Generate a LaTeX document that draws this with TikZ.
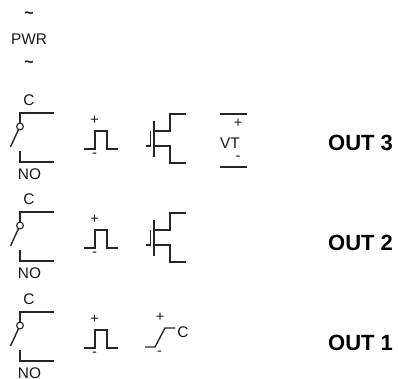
\documentclass[tikz,border=0pt]{standalone}
\usepackage{fontspec}
\setmainfont{Liberation Sans}
\tikzset{
  wire/.style={draw=black!85,line width=1.4pt,line cap=butt,line join=miter},
  lbl/.style={inner sep=0pt,font=\fontsize{15.4}{16}\selectfont,text=black!90},
  sign/.style={inner sep=0pt,font=\fontsize{14.5}{15}\selectfont,text=black!90},
  tilde/.style={inner sep=0pt,font=\fontsize{16}{16}\selectfont\bfseries,text=black!90},
  outlbl/.style={inner sep=0pt,anchor=west,font=\fontsize{22}{24}\selectfont\bfseries},
  relayrow/.pic={
    \draw[wire] (54,113) -- (20,113) -- (20,123);
    \draw[wire] (20,151) -- (20,162) -- (54,162);
    \draw[wire] (18.4,129.8) -- (10.5,147);
    \draw[wire,line width=1.1pt] (20,126.5) circle (3.4);
    \node[lbl] (c) at (29,100.5) {C};
    \node[lbl] (no) at (29.5,174) {NO};
    \draw[wire] (84,149) -- (95,149) -- (95,131) -- (107,131) -- (107,149) -- (118,149);
    \node[sign] (p) at (94.5,120) {+};
    \node[sign] (m) at (94.5,155.5) {-};
  },
  fetsym/.pic={
    \draw[wire] (154,121) -- (154,157);
    \draw[wire] (150.3,131) -- (150.3,146) -- (146,146);
    \draw[wire] (154,131) -- (170,131) -- (170,114) -- (186,114);
    \draw[wire] (154,146) -- (170,146) -- (170,163) -- (186,163);
  }
}
\begin{document}
\begin{tikzpicture}[x=1pt,y=-1pt]
\useasboundingbox (0,0) rectangle (398,379);
\node[tilde] (t1) at (29,15.5) {\char"7E};
\node[lbl] (pwr) at (29,39) {PWR};
\node[tilde] (t2) at (29,64.5) {\char"7E};
\pic at (0,0) {relayrow};
\pic at (0,99) {relayrow};
\pic at (0,199) {relayrow};
\pic at (0,0) {fetsym};
\pic at (0,99) {fetsym};
\draw[wire] (220,114) -- (247,114);
\draw[wire] (220,167) -- (247,167);
\node[sign] (vp) at (238,123.5) {+};
\node[lbl] (vt) at (230,143) {VT};
\node[sign] (vm) at (238,158) {-};
\draw[wire] (145,347) -- (155,347) -- (165,328) -- (175,328);
\node[sign] (rp) at (160,317) {+};
\node[sign] (rm) at (159.5,353) {-};
\node[lbl] (rc) at (183,332) {C};
\node[outlbl] (o3) at (328,143) {OUT 3};
\node[outlbl] (o2) at (328,243) {OUT 2};
\node[outlbl] (o1) at (328,343) {OUT 1};
\end{tikzpicture}
\end{document}
